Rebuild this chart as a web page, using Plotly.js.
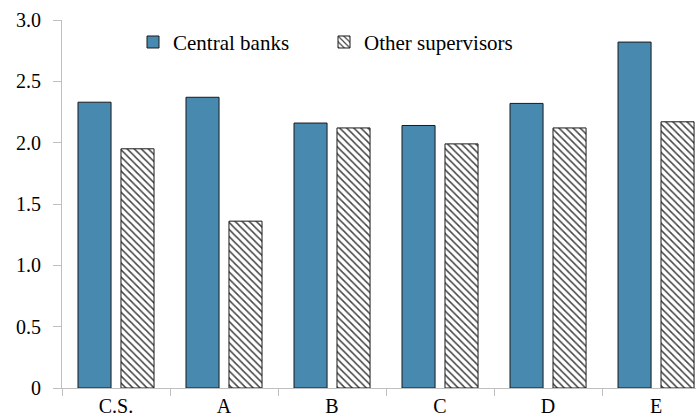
<!DOCTYPE html>
<html>
<head>
<meta charset="utf-8">
<script src="https://cdn.plot.ly/plotly-3.0.1.min.js"></script>
<style>html,body{margin:0;padding:0;background:#fff;}#chart{width:696px;height:418px;}</style>
</head>
<body>
<div id="chart"></div>
<script>
const categories = ["C.S.", "A", "B", "C", "D", "E"];
const centralBanks = [2.33, 2.37, 2.16, 2.14, 2.32, 2.82];
const otherSupervisors = [1.95, 1.36, 2.12, 1.99, 2.12, 2.17];
const yTickVals = [0, 0.5, 1.0, 1.5, 2.0, 2.5, 3.0];
const yTickText = ["0", "0.5", "1.0", "1.5", "2.0", "2.5", "3.0"];

function mkFont(s) { return {family: "Liberation Serif, serif", size: s, color: "#000"}; }

const traces = [
  {
    type: "bar", name: "Central banks", x: categories, y: centralBanks,
    width: 0.306, offset: -0.352,
    marker: {color: "#4889b0", line: {color: "#1a1a1a", width: 1}}
  },
  {
    type: "bar", name: "Other supervisors", x: categories, y: otherSupervisors,
    width: 0.306, offset: 0.046,
    marker: {color: "#ffffff", line: {color: "#1a1a1a", width: 1},
      pattern: {shape: "\\", size: 5, solidity: 0.3, fgcolor: "#444444", bgcolor: "#ffffff"}}
  }
];

const layout = {
  width: 696, height: 418,
  margin: {l: 62, r: 0, t: 20, b: 30},
  paper_bgcolor: "#fff", plot_bgcolor: "#fff",
  font: mkFont(20),
  showlegend: true,
  legend: {orientation: "h", x: 0.112, y: 0.995, xanchor: "left", yanchor: "top",
    font: mkFont(21), bgcolor: "rgba(0,0,0,0)", itemwidth: 30, entrywidth: 146, traceorder: "normal"},
  xaxis: {
    type: "category", range: [-0.5, 5.37],
    showline: true, linecolor: "#bfbfbf", linewidth: 1,
    ticks: "outside", tickson: "boundaries", ticklen: 7, tickcolor: "#bfbfbf",
    showgrid: false, zeroline: false, tickfont: mkFont(20), fixedrange: true
  },
  yaxis: {
    range: [0, 3.0], tickvals: yTickVals, ticktext: yTickText,
    showline: true, linecolor: "#bfbfbf", linewidth: 1,
    ticks: "outside", ticklen: 8, tickcolor: "#bfbfbf", ticklabelstandoff: 8,
    showgrid: false, zeroline: false, tickfont: mkFont(20), fixedrange: true
  }
};

Plotly.newPlot("chart", traces, layout, {staticPlot: true, displayModeBar: false});
</script>
</body>
</html>
